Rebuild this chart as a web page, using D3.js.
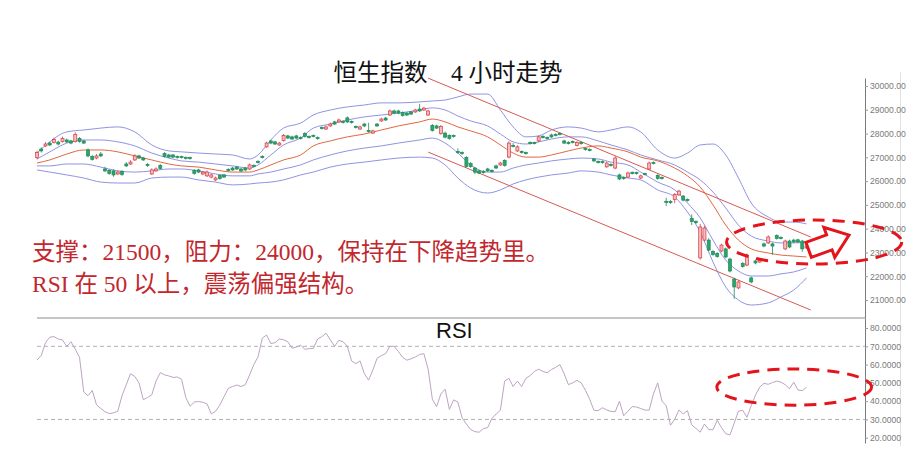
<!DOCTYPE html>
<html><head><meta charset="utf-8">
<script src="https://cdn.jsdelivr.net/npm/d3@7"></script>
<style>body{margin:0;background:#fff}svg{display:block}</style>
</head><body>
<svg id="chart" width="915" height="475"></svg>
<script>
// ---------- DATA ----------
const title = "恒生指数\u30004 小时走势";
const note1 = "支撑：21500，阻力：24000，保持在下降趋势里。";
const note2 = "RSI 在 50 以上，震荡偏强结构。";

const opens = [26990,27350,27480,27600,27620,27640,27670,27730,27690,27670,27790,27690,27310,27030,26970,27140,26510,26450,26430,26300,26400,26720,26720,26890,27060,26970,26700,26300,26430,26660,27160,27100,27100,27030,27030,26990,26990,26450,26470,26300,26220,26170,26050,26240,26260,26490,26550,26590,26510,26550,26510,26660,26830,27040,27440,27690,27650,27520,27710,27900,27860,27900,27830,28000,27880,27920,27830,28260,28190,28320,28490,28490,28510,28660,28510,28300,28190,28400,28130,28020,28400,28530,28650,28780,28950,28950,28880,28860,28910,28910,29030,28990,28780,28340,28320,28000,28020,27920,27920,27250,27200,26990,26740,26550,26430,26400,26510,26450,26640,26680,26870,27010,27500,27270,27250,27200,27630,27620,27690,27880,27830,27940,27960,28000,27690,27620,27660,27500,27620,27370,27330,26930,26830,26820,26600,26700,26550,26260,26150,26170,26360,26360,26130,26320,26510,26780,26240,26150,25150,25140,25230,25420,25370,25230,24430,24300,22770,23520,23520,23040,22960,23060,23150,22720,21880,21510,22540,22470,21930,22640,22600,23360,23400,23360,23710,23630,23150,23480,23520,23530,23480,23190];
const highs = [27280,27420,27640,27660,27830,27700,27870,27790,27740,28050,27850,27730,27380,27100,27140,27230,26600,26500,26490,26450,26460,26800,26880,27130,27110,27020,26760,26540,26580,26720,27220,27150,27140,27080,27070,27040,27030,26500,26520,26430,26450,26310,26190,26290,26310,26540,26600,26640,26560,26600,26740,26710,26880,27090,27660,27740,27700,27650,27980,27950,27910,27950,27880,28060,27920,27960,27880,28300,28340,28460,28540,28630,28560,28720,28550,28340,28330,28450,28450,28160,28440,28670,28700,29010,29010,29000,28930,28910,28950,29040,29250,29120,29000,28400,28370,28360,28080,27970,27960,27380,27250,27050,26800,26600,26480,26460,26560,26500,26690,26810,26920,27680,27600,27510,27290,27240,27670,27660,27920,27930,27880,28000,28010,28040,27740,27680,27710,27680,27670,27420,27380,26980,26870,26870,26820,26750,27050,26310,26200,26400,26410,26400,26270,26360,26830,26830,26290,26200,25300,25200,25500,25640,25420,25270,24600,24350,24200,24120,23600,23100,23010,23370,23200,22780,21940,21820,22600,22960,21990,22700,22740,23420,23720,23410,23760,23680,23540,23540,23570,23580,23530,23320];
const lows = [26920,27200,27440,27470,27580,27500,27620,27600,27550,27620,27620,27560,27000,26860,26920,27010,26380,26270,26180,26250,26220,26590,26680,26850,26930,26850,26600,26260,26390,26480,26990,26970,26970,26950,26950,26910,26900,26270,26340,26250,26170,26120,26000,26060,26130,26400,26430,26470,26380,26420,26470,26580,26740,26950,27400,27550,27520,27480,27660,27770,27730,27760,27750,27830,27790,27840,27740,28170,28150,28280,28360,28450,28420,28440,28420,28210,28150,28270,28040,27980,28280,28490,28530,28740,28820,28810,28710,28740,28780,28870,28910,28950,28740,28080,28190,27950,27800,27740,27830,27150,27100,26570,26560,26300,26290,26310,26380,26360,26510,26640,26610,26960,27420,27220,27160,27110,27540,27540,27640,27790,27750,27810,27880,27920,27560,27540,27580,27460,27530,27280,27250,26800,26740,26730,26560,26610,26500,26040,26050,26130,26280,26270,26080,26240,26470,26700,26060,26060,24950,25040,25070,25380,25150,25140,24150,24200,22700,23470,23050,22860,22780,23010,22760,22160,21050,21460,22360,22420,21700,22500,22560,23220,23350,22900,23540,23550,23100,23180,23400,23400,23020,23150];
const closes = [27200,27270,27560,27520,27750,27560,27790,27650,27600,27960,27670,27600,27060,26910,27060,27060,26430,26320,26260,26380,26280,26640,26800,27060,26970,26890,26660,26470,26510,26530,27040,27010,27010,26990,26990,26950,26950,26320,26380,26380,26380,26260,26130,26110,26170,26450,26470,26510,26430,26470,26680,26620,26780,26990,27600,27600,27560,27600,27920,27810,27770,27810,27790,27880,27830,27880,27790,28210,28280,28400,28400,28570,28470,28490,28470,28260,28280,28320,28090,28110,28320,28610,28570,28950,28860,28860,28760,28780,28820,28990,28950,29070,28950,28130,28230,28300,27850,27790,27880,27200,27160,26620,26610,26380,26340,26360,26430,26400,26550,26760,26660,27600,27460,27440,27200,27160,27580,27580,27860,27830,27790,27860,27920,27960,27600,27580,27620,27620,27580,27330,27290,26850,26780,26780,26760,26660,26970,26090,26110,26340,26320,26320,26220,26280,26760,26740,26110,26110,25100,25100,25440,25580,25200,25180,24300,24260,24070,24030,23100,22910,22830,23310,22810,22220,21550,21760,22410,22890,21760,22560,22680,23270,23650,23270,23590,23590,23480,23230,23440,23440,23150,23270];

// Bands (blue outer / blue inner / red middle), sampled at candle indices
const bandIdx    = [0,3,7,11,15,19,23,27,31,34,38,42,46,50,52,55,58,62,65,69,73,77,81,85,90,93,96,99,102,106,109,112,115,118,121,125,128,132,135,139,142,146,150,153,156,159,162,165,168,172,175,178,181];
const bandOuterUp  = [27180,27650,28070,28150,28230,28280,28070,27520,27270,27230,27180,27140,27100,26930,27100,27730,28230,28440,28780,28990,29120,29200,29290,29290,29330,29370,29410,29540,29660,29660,28990,28280,27860,27900,28150,28280,28230,28070,28150,28280,28070,27310,26970,27180,27520,27560,27100,26130,25080,24490,24280,24280,24200];
const bandInnerUp  = [26930,27230,27600,27730,27730,27650,27480,27180,26970,26850,26800,26720,26640,26550,26680,27100,27520,27810,28230,28400,28570,28700,28780,28860,28990,29080,28990,28740,28530,28320,27980,27650,27560,27650,27770,27860,27860,27690,27520,27310,27100,26890,26680,26380,26050,25540,24870,24150,23690,23480,23400,23400,23440];
const bandMid      = [26760,26890,27140,27310,27310,27230,27060,26890,26720,26640,26590,26470,26380,26380,26470,26680,26890,27100,27480,27690,27860,27980,28150,28320,28490,28610,28490,28280,28110,27860,27520,27180,27010,27010,27100,27270,27390,27480,27390,27230,27010,26850,26550,26220,25750,25000,24150,23520,23150,22980,22890,22850,22810];
const bandInnerLow = [26640,26640,26720,26720,26590,26430,26380,26430,26510,26510,26430,26300,26220,26220,26300,26380,26510,26680,26890,27100,27270,27390,27480,27600,27730,27810,27600,27180,26680,26380,26380,26550,26680,26760,26850,26930,26970,26930,26800,26680,26380,25960,25630,25080,24450,23520,22680,22220,22010,22010,22100,22180,22350];
const bandOuterLow = [26470,26380,26260,26130,25960,25920,25920,26130,26170,26170,26050,25960,25840,25880,25920,25960,26050,26260,26380,26590,26720,26800,26890,26970,27010,26970,26680,26130,25710,25500,25630,25880,26050,26170,26260,26340,26430,26380,26260,26130,26050,25630,25330,24700,23860,22600,21550,21000,20790,20880,21130,21420,21930];

// Channel trend lines: [candle index, price]
const trendUpper = [[92,30330],[182,23650]];
const trendLower = [[92,27220],[182,20580]];

const rsi = [62.5,65,72,75,75.3,74,73.5,70,72.5,68.5,64,45,43,45.8,38,36,34.2,33.2,33.6,34.5,43,49,55,53.5,50,40.8,42,43.5,51,55.6,54.4,53.8,53,53.2,52,42,37.2,39.5,39.8,39.4,38.5,33,34.5,37.8,42.5,47,48,48.8,48,49,54.3,60,64.3,74.5,76.2,71.5,72,74,73.6,72.5,69,69.6,70.6,68.4,68.7,68.8,74,75.3,77.2,73.5,70,73.3,72.5,70,62,60.5,62,55,51.5,57,63.5,64.9,66,70,70,67.2,64,62.4,63.2,64.2,65.5,66,57.5,41,37,44,46.5,35.5,40.7,39.5,30.8,27.5,24.5,23.3,23,25,25.5,30.5,33,35,51,52.5,48,51,48,52.5,54,56.3,57.5,56.3,55.5,57.3,58.5,60,55,49,50,51.4,50,46,41,35,34.8,36.4,35.2,34.4,34.2,40,32,34.5,37,36.8,36,35.1,35.1,44,50,40,37.5,26.8,30,35.2,33,34.8,27,25.1,23,27.5,24.5,24.3,29.5,25.5,22.2,21.5,28,34.5,35,31.2,37.5,43.3,47.7,49.8,49.2,50.2,51,50.4,49,46.8,50.4,46.1,45.7,47.6];

const priceTicks = [21000,22000,23000,24000,25000,26000,27000,28000,29000,30000];
const rsiTicks = [20,30,40,50,60,70,80];
const rsiGuides = [70,30];

// Annotation ellipses: centre [index, value], radii [index units, value units]
const priceEllipse = {c:[182.8,23440], r:[20.6,925]};
const rsiEllipse = {c:[178.1,47.7], r:[18.2,9.9]};
const arrowAt = [181.5,23110];

// ---------- DRAWING ----------
const svg = d3.select("#chart");
const N = closes.length;
const x = d3.scaleLinear().domain([0, N-1]).range([37, 806.5]);
const yP = d3.scaleLinear().domain([20244, 30336]).range([318, 78]);
const yR = d3.scaleLinear().domain([17.1, 85.5]).range([443, 318]);
const axisX = 865;

svg.append("rect").attr("width",915).attr("height",475).attr("fill","#fff");

// title
svg.append("text").attr("x",448).attr("y",81).attr("text-anchor","middle")
  .attr("font-family","'Liberation Serif','Noto Sans CJK SC'").attr("font-size",23.5)
  .attr("fill","#111").text(title);

// separator line & RSI guides
svg.append("line").attr("x1",37).attr("x2",axisX).attr("y1",yR.range()[1]).attr("y2",yR.range()[1])
  .attr("stroke","#8c8c8c").attr("stroke-width",1);
svg.selectAll(".guide").data(rsiGuides).enter().append("line")
  .attr("x1",37).attr("x2",axisX).attr("y1",d=>yR(d)).attr("y2",d=>yR(d))
  .attr("stroke","#a8a8a8").attr("stroke-dasharray","4,3").attr("stroke-width",0.9);

// right light border
svg.append("line").attr("x1",900.5).attr("x2",900.5).attr("y1",72).attr("y2",446)
  .attr("stroke","#e2e2e2").attr("stroke-width",1);

// bands
const bandLine = arr => d3.line().x((d,i)=>x(bandIdx[i])).y(d=>yP(d)).curve(d3.curveMonotoneX)(arr);
[[bandOuterUp,"#8f93e3"],[bandInnerUp,"#8f93e3"],[bandInnerLow,"#8f93e3"],[bandOuterLow,"#8f93e3"],[bandMid,"#e2673f"]]
  .forEach(([arr,col])=>{
    svg.append("path").attr("d",bandLine(arr)).attr("fill","none").attr("stroke",col).attr("stroke-width",1);
  });

// trend lines
[trendUpper,trendLower].forEach(t=>{
  svg.append("line").attr("x1",x(t[0][0])).attr("y1",yP(t[0][1])).attr("x2",x(t[1][0])).attr("y2",yP(t[1][1]))
    .attr("stroke","#d65a55").attr("stroke-width",1);
});

// candles
const candles = d3.range(N).map(i=>({i,o:opens[i],h:highs[i],l:lows[i],c:closes[i]}));
const g = svg.append("g");
const cw = 3;
const col = d => d.c >= d.o ? "#d7383f" : "#1f8a57";
const fillc = d => d.c >= d.o ? "#f6bcbc" : "#2aa56c";
g.selectAll(".wick").data(candles).enter().append("line")
  .attr("x1",d=>x(d.i)).attr("x2",d=>x(d.i)).attr("y1",d=>yP(d.h)).attr("y2",d=>yP(d.l))
  .attr("stroke",col).attr("stroke-width",0.8);
g.selectAll(".body").data(candles).enter().append("rect")
  .attr("x",d=>x(d.i)-cw/2).attr("width",cw)
  .attr("y",d=>yP(Math.max(d.o,d.c)))
  .attr("height",d=>Math.max(1, yP(Math.min(d.o,d.c))-yP(Math.max(d.o,d.c))))
  .attr("fill",fillc).attr("stroke",col).attr("stroke-width",0.7);

// RSI line
svg.append("path").attr("d", d3.line().x((d,i)=>x(i)).y(d=>yR(d))(rsi))
  .attr("fill","none").attr("stroke","#bea3c4").attr("stroke-width",1);
svg.append("text").attr("x",436).attr("y",338).attr("font-family","'Liberation Sans',Arial,sans-serif")
  .attr("font-size",22).attr("fill","#111").text("RSI");

// axes
svg.append("clipPath").attr("id","axclip").append("rect").attr("x",0).attr("y",0).attr("width",900).attr("height",475);
const axG1 = svg.append("g").attr("transform",`translate(${axisX},0)`).attr("clip-path","url(#axclip)")
  .call(d3.axisRight(yP).tickValues(priceTicks).tickFormat(d=>d.toFixed(2)).tickSize(3).tickSizeOuter(0).tickPadding(2));
const axG2 = svg.append("g").attr("transform",`translate(${axisX},0)`).attr("clip-path","url(#axclip)")
  .call(d3.axisRight(yR).tickValues(rsiTicks).tickFormat(d=>d.toFixed(4)).tickSize(3).tickSizeOuter(0).tickPadding(2));
[axG1,axG2].forEach(a=>{
  a.select(".domain").attr("stroke","#7a7a7a");
  a.selectAll(".tick line").attr("stroke","#999");
  a.selectAll(".tick text").attr("fill","#7a7a7a").attr("font-size",8.6)
    .attr("font-family","'Liberation Sans',Arial,sans-serif");
});

// red notes
const noteFont = "'Liberation Serif','Noto Sans CJK SC'";
svg.append("text").attr("x",32).attr("y",260).attr("font-family",noteFont).attr("font-size",23.5)
  .attr("fill","#c2272d").text(note1);
svg.append("text").attr("x",32).attr("y",292).attr("font-family",noteFont).attr("font-size",23.5)
  .attr("fill","#c2272d").text(note2);

// annotations
function ell(e, ys){
  const cx = x(e.c[0]), cy = ys(e.c[1]);
  const rx = x(e.c[0]+e.r[0]) - cx, ry = cy - ys(e.c[1]+e.r[1]);
  svg.append("ellipse").attr("cx",cx).attr("cy",cy).attr("rx",rx).attr("ry",ry)
    .attr("fill","none").attr("stroke","#e3141b").attr("stroke-width",3).attr("stroke-dasharray","12,8");
}
ell(priceEllipse, yP);
ell(rsiEllipse, yR);

const arrowPts = [[0,-8],[22,-8],[22,-16],[43,0],[22,16],[22,8],[0,8]];
svg.append("path").attr("d", d3.line()(arrowPts) + "Z")
  .attr("transform",`translate(${x(arrowAt[0])},${yP(arrowAt[1])}) rotate(-20)`)
  .attr("fill","#fff").attr("fill-opacity",0.6).attr("stroke","#e3141b").attr("stroke-width",3).attr("stroke-linejoin","miter");
</script>
</body></html>
